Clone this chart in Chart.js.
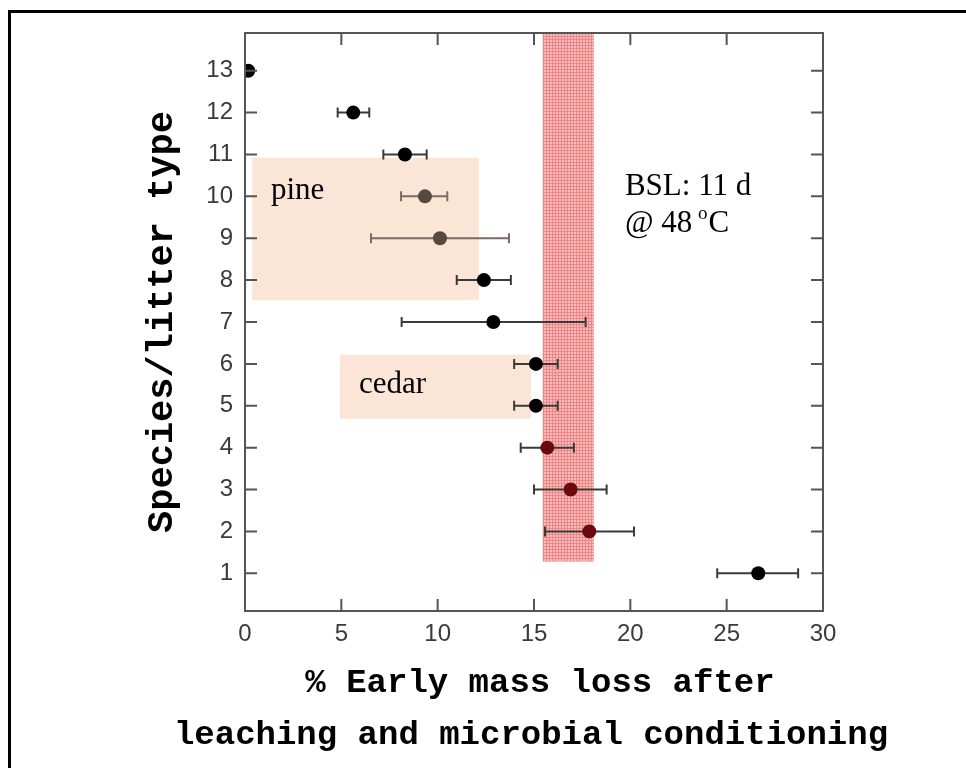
<!DOCTYPE html>
<html>
<head>
<meta charset="utf-8">
<script src="https://cdn.jsdelivr.net/npm/chart.js@4.4.1/dist/chart.umd.min.js"></script>
<style>
  html, body { margin: 0; padding: 0; background: #fff; }
  #wrap { position: relative; width: 966px; height: 768px; }
  #frame { position: absolute; left: 8px; top: 10px; right: 0; bottom: 0;
           border-top: 3px solid #000; border-left: 3px solid #000; pointer-events: none; }
</style>
</head>
<body>
<div id="wrap">
  <canvas id="chart"></canvas>
  <div id="frame"></div>
</div>
<script>
// species / litter type (y) and % early mass loss (x)
const types    = [1, 2, 3, 4, 5, 6, 7, 8, 9, 10, 11, 12, 13];
const massLoss = [26.64, 17.87, 16.90, 15.69, 15.10, 15.10, 12.89, 12.40, 10.12, 9.34, 8.30, 5.62, 0.17];
const errLow   = [24.51, 15.57, 15.00, 14.31, 13.97, 13.97, 8.13, 10.99, 6.54, 8.10, 7.18, 4.81, null];
const errHigh  = [28.71, 20.19, 18.77, 17.07, 16.23, 16.23, 17.68, 13.80, 13.70, 10.50, 9.43, 6.45, null];

const xTicks = [0, 5, 10, 15, 20, 25, 30];
const yTicks = [1, 2, 3, 4, 5, 6, 7, 8, 9, 10, 11, 12, 13];

// shaded regions in data units
const bslBandX = [15.45, 18.11];
const bslBandY = [1.28, 13.9];
const pineBoxX = [0.37, 12.14];
const pineBoxY = [7.52, 10.92];
const cedarBoxX = [4.93, 14.84];
const cedarBoxY = [4.69, 6.22];

const inBand = [2, 3, 4];
const inPine = [9, 10];

const pointColors = types.map(t => inBand.includes(t) ? '#6a0a0d' : (inPine.includes(t) ? '#574840' : '#000'));

// stippled pink fill like the scanned halftone
function stipple() {
  const c = document.createElement('canvas');
  c.width = 3; c.height = 3;
  const g = c.getContext('2d');
  g.fillStyle = '#f9bcbc';
  g.fillRect(0, 0, 3, 3);
  g.fillStyle = '#ef8585';
  g.fillRect(0, 0, 3, 1);
  g.fillRect(0, 0, 1, 3);
  return g.createPattern(c, 'repeat');
}

const overlay = {
  id: 'overlay',
  beforeDatasetsDraw(chart) {
    const ctx = chart.ctx, xs = chart.scales.x, ys = chart.scales.y;
    const rect = (xr, yr, color) => {
      const x1 = xs.getPixelForValue(xr[0]), x2 = xs.getPixelForValue(xr[1]);
      const y1 = ys.getPixelForValue(yr[1]), y2 = ys.getPixelForValue(yr[0]);
      ctx.fillStyle = color;
      ctx.fillRect(x1, y1, x2 - x1, y2 - y1);
    };
    ctx.save();
    rect(pineBoxX, pineBoxY, '#fbe5d6');
    rect(cedarBoxX, cedarBoxY, '#fbe5d6');
    rect(bslBandX, bslBandY, stipple());

    // error bars
    ctx.lineWidth = 2;
    types.forEach((t, i) => {
      if (errLow[i] == null) return;
      const y = ys.getPixelForValue(t);
      const a = xs.getPixelForValue(errLow[i]), b = xs.getPixelForValue(errHigh[i]);
      ctx.strokeStyle = inPine.includes(t) ? '#7a6b63' : '#3a3a3a';
      ctx.beginPath();
      ctx.moveTo(a, y); ctx.lineTo(b, y);
      ctx.moveTo(a, y - 5); ctx.lineTo(a, y + 5);
      ctx.moveTo(b, y - 5); ctx.lineTo(b, y + 5);
      ctx.stroke();
    });
    ctx.restore();
  },
  afterDraw(chart) {
    const ctx = chart.ctx, xs = chart.scales.x, ys = chart.scales.y;
    const area = chart.chartArea;
    ctx.save();
    // frame and inward ticks
    ctx.strokeStyle = '#555';
    ctx.lineWidth = 2;
    ctx.strokeRect(area.left, area.top, area.right - area.left, area.bottom - area.top);
    ctx.beginPath();
    xTicks.forEach(v => {
      const x = xs.getPixelForValue(v);
      ctx.moveTo(x, area.bottom); ctx.lineTo(x, area.bottom - 12);
      ctx.moveTo(x, area.top); ctx.lineTo(x, area.top + 12);
    });
    yTicks.forEach(v => {
      const y = ys.getPixelForValue(v);
      ctx.moveTo(area.left, y); ctx.lineTo(area.left + 12, y);
      ctx.moveTo(area.right, y); ctx.lineTo(area.right - 12, y);
    });
    ctx.stroke();

    // annotations
    ctx.fillStyle = '#000';
    ctx.textAlign = 'left';
    ctx.textBaseline = 'alphabetic';
    ctx.font = '31px "Liberation Serif", "Times New Roman", serif';
    ctx.fillText('pine', xs.getPixelForValue(1.35), ys.getPixelForValue(9.94));
    ctx.fillText('cedar', xs.getPixelForValue(5.92), ys.getPixelForValue(5.31));
    const bx = xs.getPixelForValue(19.72);
    ctx.fillText('BSL: 11 d', bx, ys.getPixelForValue(10.04));
    const by = ys.getPixelForValue(9.16);
    const pre = '@ 48 ';
    ctx.fillText(pre, bx, by);
    let w = ctx.measureText(pre).width;
    ctx.font = '19px "Liberation Serif", "Times New Roman", serif';
    ctx.fillText('o', bx + w - 2, by - 13);
    w += ctx.measureText('o').width - 1;
    ctx.font = '31px "Liberation Serif", "Times New Roman", serif';
    ctx.fillText('C', bx + w, by);

    // axis titles
    ctx.font = 'bold 34px "Liberation Mono", "Courier New", monospace';
    ctx.textAlign = 'center';
    const cx = (area.left + area.right) / 2;
    ctx.fillText('% Early mass loss after', cx + 6, 692);
    ctx.fillText('leaching and microbial conditioning', cx - 3, 744);

    ctx.translate(163, (area.top + area.bottom) / 2);
    ctx.rotate(-Math.PI / 2);
    ctx.font = 'bold 37px "Liberation Mono", "Courier New", monospace';
    ctx.textBaseline = 'middle';
    ctx.fillText('Species/litter type', 0, 0);
    ctx.restore();
  }
};

const tickFont = { family: '"Liberation Sans", Arial, sans-serif', size: 24 };

new Chart(document.getElementById('chart'), {
  type: 'scatter',
  data: {
    datasets: [{
      data: types.map((t, i) => ({ x: massLoss[i], y: t })),
      pointBackgroundColor: pointColors,
      pointBorderWidth: 0,
      pointRadius: 7,
      pointHoverRadius: 7
    }]
  },
  options: {
    responsive: true,
    maintainAspectRatio: false,
    devicePixelRatio: 1,
    animation: false,
    layout: { padding: { top: 33, right: 143, left: 0, bottom: 0 } },
    plugins: { legend: { display: false }, tooltip: { enabled: false } },
    scales: {
      x: {
        type: 'linear',
        min: 0, max: 30,
        afterBuildTicks: s => { s.ticks = xTicks.map(v => ({ value: v })); },
        afterFit: s => { s.height = 157; },
        grid: { display: false, drawTicks: false },
        border: { display: false },
        ticks: { font: tickFont, color: '#3a3a3a', padding: 9, maxRotation: 0 }
      },
      y: {
        type: 'linear',
        min: 0.1, max: 13.9,
        afterBuildTicks: s => { s.ticks = yTicks.map(v => ({ value: v })); },
        afterFit: s => { s.width = 245; },
        grid: { display: false, drawTicks: false },
        border: { display: false },
        ticks: { font: tickFont, color: '#3a3a3a', padding: 12 }
      }
    }
  },
  plugins: [overlay]
});
</script>
</body>
</html>
